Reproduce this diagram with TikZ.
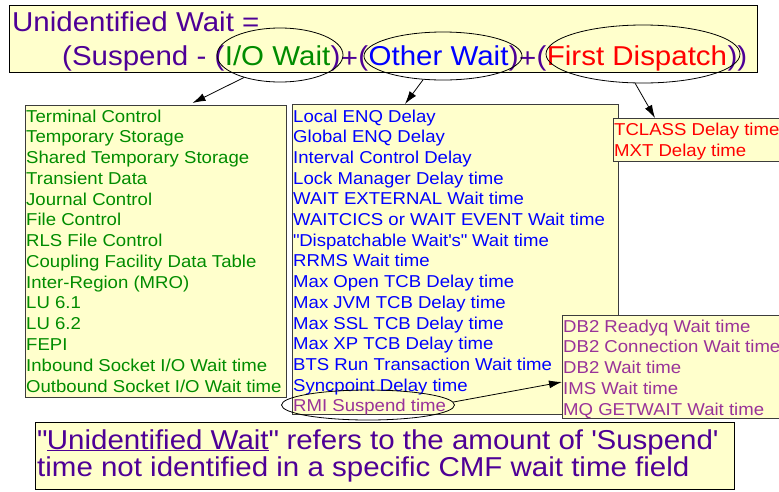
\documentclass[tikz,border=0pt]{standalone}
\usepackage{fontspec}
\setmainfont{Liberation Sans}[FakeStretch=1.08]
\usetikzlibrary{arrows.meta,positioning,shapes.geometric}

\definecolor{boxfill}{HTML}{FFFFCC}
\definecolor{boxedge}{HTML}{3C3C3C}
\definecolor{waitpurple}{HTML}{4E0096}
\definecolor{iogreen}{HTML}{008C00}
\definecolor{otherblue}{HTML}{0000FF}
\definecolor{firstred}{HTML}{FF0000}
\definecolor{rmimagenta}{HTML}{993399}
\newcommand\bigfont{\fontsize{27.3}{34}\selectfont}
\newcommand\listfont{\fontsize{17.2}{20.7}\selectfont}
\tikzset{
    x={1pt},
    y={-1pt},
    list box/.style={
        draw={boxedge}, fill={boxfill},
        line width={1pt},
        inner sep=0pt,
        anchor=north west,
    },
    list item/.style={
        font=\listfont,
        text={#1},
        anchor=base west,
        inner sep=0pt,
    },
    title text/.style={
        font=\bigfont,
        text={#1},
        inner sep=0pt,
    },
    title text/.default={waitpurple},
    oval/.style={
        ellipse, draw=black,
        line width={0.8pt},
        inner sep=0pt,
    },
    pointer/.style={
        draw=black,
        line width={0.8pt},
        -{Latex[length=13pt,width=8pt]},
    },
}

\begin{document}
\begin{tikzpicture}
\useasboundingbox (0,0) rectangle (779,491);
\clip (0,0) rectangle (779,491);
\fill[white] (0,0) rectangle (779,491);
% title
\node[list box, draw=black, minimum width={748}, minimum height={67}] (title) at (9,5) {};
\node[title text, anchor=base west] (titlehead) at (12,31) {Unidentified Wait =};
\node[title text, anchor=base west] (suspend) at (62,65) {(Suspend - (};
\node[title text={iogreen}, base right=0pt of suspend] (io) {I/O Wait};
\node[title text, base right=0pt of io] (ioclose) {)};
\node[title text, base right=0pt of ioclose, yshift=-2pt] (plusa) {+};
\node[title text, base right=0pt of plusa, yshift=2pt] (otheropen) {(};
\node[title text={otherblue}, base right=0pt of otheropen] (other) {Other Wait};
\node[title text, base right=0pt of other] (otherclose) {)};
\node[title text, base right=0pt of otherclose, yshift=-2pt] (plusb) {+};
\node[title text, base right=0pt of plusb, yshift=2pt] (firstopen) {(};
\node[title text={firstred}, base right=0pt of firstopen] (first) {First Dispatch};
\node[title text, base right=0pt of first] (firstclose) {))};
\node[oval, minimum width={126}, minimum height={54}] (ioell) at (280,55) {};
\node[oval, minimum width={158}, minimum height={48}] (otherell) at (443,56) {};
\node[oval, minimum width={194}, minimum height={58}] (firstell) at (643,54) {};
% lists
\node[list box, minimum width={261}, minimum height={292}] (iolist) at (25,105) {};
\foreach \t [count=\i from 0] in {Terminal Control, Temporary Storage,
    Shared Temporary Storage, Transient Data, Journal Control, File Control,
    RLS File Control, Coupling Facility Data Table, Inter-Region (MRO),
    LU 6.1, LU 6.2, FEPI, Inbound Socket I/O Wait time,
    Outbound Socket I/O Wait time}
    \node[list item={iogreen}] (io-\i) at (26,122+20.77*\i) {\t};
\node[list box, minimum width={326}, minimum height={310}] (otherlist) at (292,104) {};
\foreach \t [count=\i from 0] in {Local ENQ Delay, Global ENQ Delay,
    Interval Control Delay, Lock Manager Delay time, WAIT EXTERNAL Wait time,
    WAITCICS or WAIT EVENT Wait time,
    \textquotedbl Dispatchable Wait\textquotesingle s\textquotedbl{} Wait time,
    RRMS Wait time, Max Open TCB Delay time, Max JVM TCB Delay time,
    Max SSL TCB Delay time, Max XP TCB Delay time,
    BTS Run Transaction Wait time, Syncpoint Delay time}
    \node[list item={otherblue}] (other-\i) at (293,122+20.7*\i) {\t};
\node[list item={rmimagenta}] (rmi) at (293,411.8) {RMI Suspend time};
\node[oval, minimum width={173}, minimum height={30}] (rmiell) at (368,405) {};
\node[list box, minimum width={200}, minimum height={43}] (firstlist) at (613,118) {};
\node[list item={firstred}] (first-0) at (614,135) {TCLASS Delay time};
\node[list item={firstred}] (first-1) at (614,156) {MXT Delay time};
\node[list box, minimum width={240}, minimum height={103}] (rmilist) at (562,315) {};
\foreach \t [count=\i from 0] in {DB2 Readyq Wait time, DB2 Connection Wait time,
    DB2 Wait time, IMS Wait time, MQ GETWAIT Wait time}
    \node[list item={rmimagenta}] (rmi-\i) at (563,332+20.75*\i) {\t};
% pointers
\draw[pointer] (ioell.212) -- ([xshift=36.5pt,yshift=2pt]iolist.north);
\draw[pointer] (otherell.230) -- ([xshift=113pt]otherlist.north west);
\draw[pointer] (firstell.255) -- ([xshift=42pt]firstlist.north west);
\draw[pointer] (rmiell.2) -- ([yshift=-67pt]rmilist.north west);
% note
\node[list box, draw=black, minimum width={699}, minimum height={67}] (note) at (35,422) {};
\node[title text, anchor=base west] (note-0) at (37,449) {\textquotedbl\underline{Unidentified Wait}\textquotedbl{} refers to the amount of \textquotesingle Suspend\textquotesingle};
\node[title text, anchor=base west] (note-1) at (37,476) {time not identified in a specific CMF wait time field};
\end{tikzpicture}
\end{document}
